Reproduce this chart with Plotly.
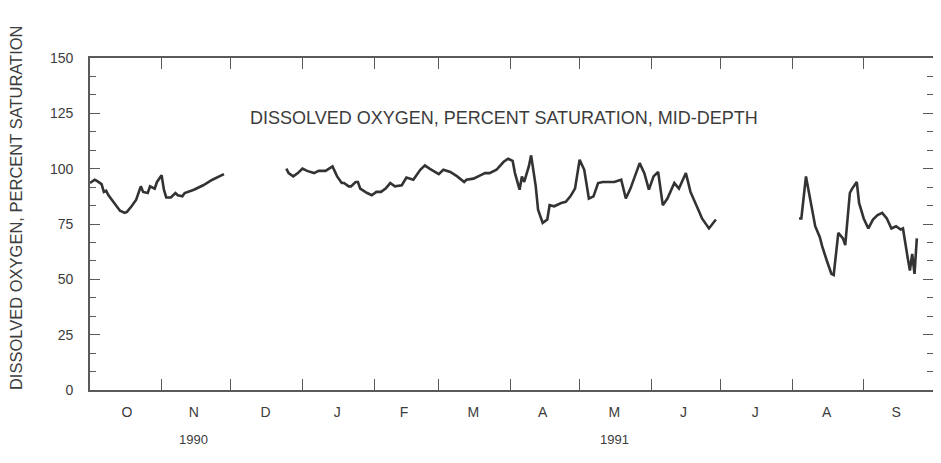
import plotly.graph_objects as go

# Segment 1: Oct-Nov 1990
seg1_dates = ["1990-10-01", "1990-10-03", "1990-10-04", "1990-10-06", "1990-10-07", "1990-10-08",
              "1990-10-09", "1990-10-11", "1990-10-12", "1990-10-14", "1990-10-16", "1990-10-17",
              "1990-10-19", "1990-10-21", "1990-10-23", "1990-10-24", "1990-10-26", "1990-10-27",
              "1990-10-29", "1990-10-30", "1990-11-01", "1990-11-02", "1990-11-03", "1990-11-05",
              "1990-11-07", "1990-11-08", "1990-11-10", "1990-11-11", "1990-11-15", "1990-11-19",
              "1990-11-23", "1990-11-28"]
seg1_values = [93.5, 95, 94.5, 93, 89.5, 90,
               88, 85, 83.5, 81, 80, 80.5,
               83, 86, 92, 89.5, 89, 92,
               91, 94, 97, 90.5, 87, 87,
               89, 88, 87.5, 89, 90.5, 92.5,
               95, 97.5]

# Segment 2: late Dec 1990 - Jun 1991
seg2_dates = ["1990-12-25", "1990-12-26", "1990-12-28", "1990-12-30", "1991-01-01", "1991-01-03",
              "1991-01-06", "1991-01-08", "1991-01-11", "1991-01-14", "1991-01-16", "1991-01-18",
              "1991-01-19", "1991-01-21", "1991-01-22", "1991-01-24", "1991-01-25", "1991-01-26",
              "1991-01-29", "1991-01-31", "1991-02-02", "1991-02-04", "1991-02-06", "1991-02-08",
              "1991-02-10", "1991-02-13", "1991-02-15", "1991-02-18", "1991-02-21", "1991-02-23",
              "1991-02-25", "1991-02-28", "1991-03-01", "1991-03-03", "1991-03-06", "1991-03-09",
              "1991-03-12", "1991-03-13", "1991-03-16", "1991-03-19", "1991-03-21", "1991-03-23",
              "1991-03-26", "1991-03-29", "1991-03-31", "1991-04-02", "1991-04-03", "1991-04-05",
              "1991-04-06", "1991-04-07", "1991-04-09", "1991-04-10", "1991-04-12", "1991-04-13",
              "1991-04-15", "1991-04-17", "1991-04-18", "1991-04-20", "1991-04-23", "1991-04-25",
              "1991-04-27", "1991-04-29", "1991-05-01", "1991-05-03", "1991-05-05", "1991-05-07",
              "1991-05-09", "1991-05-11", "1991-05-14", "1991-05-16", "1991-05-19", "1991-05-21",
              "1991-05-23", "1991-05-27", "1991-05-29", "1991-05-31", "1991-06-02", "1991-06-04",
              "1991-06-06", "1991-06-08", "1991-06-11", "1991-06-13", "1991-06-16", "1991-06-18",
              "1991-06-22", "1991-06-23", "1991-06-26", "1991-06-28", "1991-06-29"]
seg2_values = [100, 98, 96.5, 98, 100, 99,
               98, 99, 99, 101, 96.5, 93.5,
               93.5, 92, 92, 94, 94, 91,
               89, 88, 89.5, 89.5, 91, 93.5,
               92, 92.5, 96, 95, 99.5, 101.5,
               100, 98, 97.5, 99.5, 98.5, 96.5,
               94, 95, 95.5, 97, 98, 98,
               99.5, 103, 104.5, 103.5, 98, 90.5,
               96.5, 94, 101, 106, 92, 81.5,
               75.5, 77, 83.5, 83, 84.5, 85,
               87.5, 91, 104, 99.5, 86.5, 87.5,
               93.5, 94, 94, 94, 95, 86.5,
               91, 102.5, 98, 90.5, 96.5, 98.5,
               83.5, 86.5, 93.5, 91, 98, 89.5,
               80, 77.5, 73, 75.5, 77]

# Segment 3: Aug-Sep 1991
seg3_dates = ["1991-08-04", "1991-08-05", "1991-08-07", "1991-08-08", "1991-08-10", "1991-08-11",
              "1991-08-13", "1991-08-14", "1991-08-16", "1991-08-18", "1991-08-19", "1991-08-20",
              "1991-08-21", "1991-08-23", "1991-08-24", "1991-08-26", "1991-08-27", "1991-08-29",
              "1991-08-30", "1991-09-01", "1991-09-03", "1991-09-05", "1991-09-07", "1991-09-09",
              "1991-09-11", "1991-09-13", "1991-09-15", "1991-09-17", "1991-09-18", "1991-09-20",
              "1991-09-21", "1991-09-22", "1991-09-23", "1991-09-24"]
seg3_values = [77.5, 77.5, 96.5, 90.5, 78.5, 74,
               69, 65, 58.5, 52.5, 52, 63,
               71, 68.5, 65.5, 89, 91, 94,
               84.5, 77.5, 73, 77, 79, 80,
               77.5, 73, 74, 72.5, 73, 60,
               54, 61.5, 52.5, 68.5]

month_starts = ["1990-10-01", "1990-11-01", "1990-12-01", "1991-01-01", "1991-02-01", "1991-03-01",
                "1991-04-01", "1991-05-01", "1991-06-01", "1991-07-01", "1991-08-01", "1991-09-01",
                "1991-10-01"]
month_mids = ["1990-10-17", "1990-11-15", "1990-12-16", "1991-01-16", "1991-02-14", "1991-03-16",
              "1991-04-15", "1991-05-16", "1991-06-15", "1991-07-16", "1991-08-16", "1991-09-15"]
month_labels = ["O", "N", "D", "J", "F", "M", "A", "M", "J", "J", "A", "S"]
year_labels = ["1990", "1991"]
year_positions = ["1990-11-15", "1991-05-16"]
y_ticks = [0, 25, 50, 75, 100, 125, 150]

title_text = "DISSOLVED OXYGEN, PERCENT SATURATION, MID-DEPTH"
y_title = "DISSOLVED OXYGEN, PERCENT SATURATION"

FONT = "Liberation Sans, Arial, sans-serif"
INK = "#3c3c3c"
AX = "#5a5a5a"

x_all = seg1_dates + [None] + seg2_dates + [None] + seg3_dates
y_all = seg1_values + [None] + seg2_values + [None] + seg3_values

fig = go.Figure()
fig.add_trace(go.Scatter(x=x_all, y=y_all, mode="lines", connectgaps=False,
                         line=dict(color="#333333", width=2.6), showlegend=False,
                         hoverinfo="skip"))

# page body has an 8px margin, so the figure is sized to fit inside the window
fig.update_layout(
    width=933, height=455,
    margin=dict(l=82, r=6, t=50, b=73),
    paper_bgcolor="white", plot_bgcolor="white",
    font=dict(family=FONT, color=INK),
    showlegend=False,
)

fig.update_xaxes(
    type="date",
    range=[month_starts[0], month_starts[-1]],
    tickmode="array", tickvals=month_mids, ticktext=month_labels,
    ticks="", ticklabelstandoff=8,
    tickfont=dict(size=14, color=INK),
    minor=dict(tickmode="array", tickvals=month_starts[1:-1], ticks="inside",
               ticklen=11, tickwidth=1.4, tickcolor=AX, showgrid=False),
    showline=True, linecolor=AX, linewidth=1.6, mirror="ticks",
    showgrid=False, zeroline=False,
)

fig.update_yaxes(
    range=[0, 150],
    tickmode="array", tickvals=y_ticks,
    ticks="inside", ticklen=10, tickwidth=1.4, tickcolor=AX,
    ticklabelstandoff=12,
    tickfont=dict(size=14, color=INK),
    minor=dict(dtick=25 / 3, tick0=0, ticks="inside", ticklen=6, tickwidth=1.2,
               tickcolor=AX, showgrid=False),
    showline=True, linecolor=AX, linewidth=1.6, mirror="ticks",
    showgrid=False, zeroline=False,
)

for lab, pos in zip(year_labels, year_positions):
    fig.add_annotation(x=pos, y=-0.15, xref="x", yref="paper", text=lab,
                       showarrow=False, font=dict(size=13, color=INK, family=FONT),
                       xanchor="center", yanchor="middle")

fig.add_annotation(x=0.491, y=0.819, xref="paper", yref="paper", text=title_text,
                   showarrow=False, font=dict(size=18, color=INK, family=FONT),
                   xanchor="center", yanchor="middle")

fig.add_annotation(x=-0.087, y=0.55, xref="paper", yref="paper", text=y_title,
                   textangle=-90, showarrow=False,
                   font=dict(size=16.5, color=INK, family=FONT),
                   xanchor="center", yanchor="middle")

fig.write_html("out.html")
